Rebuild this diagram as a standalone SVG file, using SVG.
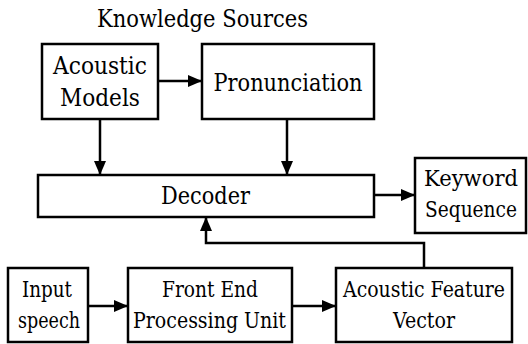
<svg xmlns="http://www.w3.org/2000/svg" width="528" height="344" viewBox="0 0 528 344">
  <defs>
    <style>
      .box { fill: #ffffff; stroke: #000000; stroke-width: 2.5; }
      .lbl { font-family: "DejaVu Serif", "Liberation Serif", serif; font-size: 23.5px; fill: #000000; text-anchor: middle; }
      .sm { font-size: 21.5px; }
      .edge { fill: none; stroke: #000000; stroke-width: 2.5; marker-end: url(#head); }
    </style>
    <marker id="head" viewBox="0 0 14 12" refX="14" refY="6" markerWidth="14" markerHeight="12" markerUnits="userSpaceOnUse" orient="auto">
      <path d="M0,0 L14,6 L0,12 z" fill="#000000"/>
    </marker>
  </defs>
  <rect width="528" height="344" fill="#ffffff"/>

  <text class="lbl" x="202.5" y="27" textLength="211" lengthAdjust="spacingAndGlyphs">Knowledge Sources</text>

  <g id="acoustic-models">
    <rect class="box" x="42" y="44" width="116" height="75"/>
    <text class="lbl" x="100" y="74" textLength="94" lengthAdjust="spacingAndGlyphs">Acoustic</text>
    <text class="lbl" x="100" y="106" textLength="80" lengthAdjust="spacingAndGlyphs">Models</text>
  </g>

  <g id="pronunciation">
    <rect class="box" x="202" y="44" width="172" height="75"/>
    <text class="lbl" x="288" y="91" textLength="149" lengthAdjust="spacingAndGlyphs">Pronunciation</text>
  </g>

  <g id="decoder">
    <rect class="box" x="38" y="175" width="336" height="42"/>
    <text class="lbl" x="205.5" y="204" textLength="89" lengthAdjust="spacingAndGlyphs">Decoder</text>
  </g>

  <g id="keyword-sequence">
    <rect class="box" x="415" y="158" width="111" height="75"/>
    <text class="lbl sm" x="471" y="186" textLength="94" lengthAdjust="spacingAndGlyphs">Keyword</text>
    <text class="lbl sm" x="471" y="217" textLength="92" lengthAdjust="spacingAndGlyphs">Sequence</text>
  </g>

  <g id="input-speech">
    <rect class="box" x="8" y="268" width="80" height="74"/>
    <text class="lbl sm" x="47" y="297" textLength="50" lengthAdjust="spacingAndGlyphs">Input</text>
    <text class="lbl sm" x="49" y="328" textLength="62" lengthAdjust="spacingAndGlyphs">speech</text>
  </g>

  <g id="front-end">
    <rect class="box" x="128" y="268" width="164" height="74"/>
    <text class="lbl sm" x="210" y="297" textLength="96" lengthAdjust="spacingAndGlyphs">Front End</text>
    <text class="lbl sm" x="209.5" y="328" textLength="153" lengthAdjust="spacingAndGlyphs">Processing Unit</text>
  </g>

  <g id="feature-vector">
    <rect class="box" x="336" y="268" width="176" height="74"/>
    <text class="lbl sm" x="424" y="297" textLength="162" lengthAdjust="spacingAndGlyphs">Acoustic Feature</text>
    <text class="lbl sm" x="424" y="328" textLength="62" lengthAdjust="spacingAndGlyphs">Vector</text>
  </g>

  <g id="connectors">
    <line class="edge" x1="158" y1="81" x2="202" y2="81"/>
    <line class="edge" x1="100" y1="119" x2="100" y2="175"/>
    <line class="edge" x1="287" y1="119" x2="287" y2="175"/>
    <line class="edge" x1="374" y1="195" x2="415" y2="195"/>
    <line class="edge" x1="88" y1="306" x2="128" y2="306"/>
    <line class="edge" x1="292" y1="306" x2="336" y2="306"/>
    <polyline class="edge" points="424,268 424,243 206,243 206,217"/>
  </g>
</svg>
